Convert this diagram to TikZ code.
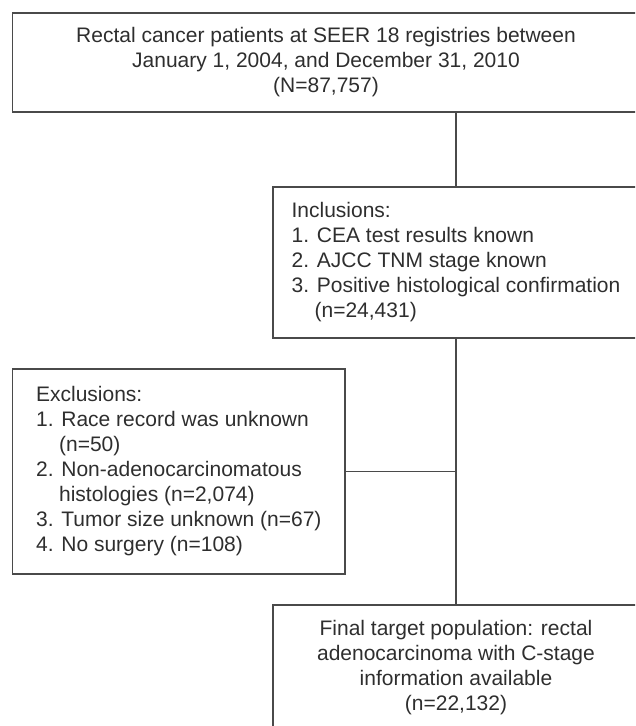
\documentclass[tikz,border=0pt]{standalone}
\usepackage{fontspec}
\setmainfont{Liberation Sans}
\usepackage{tikz}
\usetikzlibrary{positioning}
\usetikzlibrary{calc}

\definecolor{framegray}{HTML}{4A4A4A}
\definecolor{textgray}{HTML}{2E2E2E}

\begin{document}
\begin{tikzpicture}[x=1pt, y=-1pt,
    flowbox/.style={draw=framegray, line width=1.5pt, inner sep=0pt,
    text=textgray, font=\fontsize{21}{25}\selectfont},
    link/.style={draw=framegray, line width=1.5pt},
    ]
    \useasboundingbox (0,0) rectangle (635,726);
    \clip (0,0) rectangle (635,726);

    \node[flowbox, align=center, minimum width=626.6pt, minimum height=99.3pt] (source) at (326,62.4)
        {Rectal cancer patients at SEER 18 registries between\\
         January 1, 2004, and December 31, 2010\\
         (N=87,757)};
    \node[flowbox, align=left, minimum width=366pt, minimum height=151pt] (incl) at (456,262.5)
        {Inclusions:\\
         1. CEA test results known\\
         2. AJCC TNM stage known\\
         3. Positive histological confirmation\\
         \hspace*{23pt}(n=24,431)};
    \node[flowbox, align=left, minimum width=332.3pt, minimum height=205pt] (excl) at (178.8,471.5)
        {Exclusions:\\
         1. Race record was unknown\\
         \hspace*{23pt}(n=50)\\
         2. Non-adenocarcinomatous\\
         \hspace*{23pt}histologies (n=2,074)\\
         3. Tumor size unknown (n=67)\\
         4. No surgery (n=108)};
    \node[flowbox, align=center, minimum width=366pt, minimum height=126pt] (final) at (456,668)
        {Final target population: rectal\\
         adenocarcinoma with C-stage\\
         information available\\
         (n=22,132)};

    \coordinate (spine) at (456,0);

    \draw[link] (source.south -| spine) -- (incl.north -| spine);
    \draw[link] (incl.south -| spine) -- (final.north -| spine);
    \draw[link] (excl.east) -- (excl.east -| spine);
\end{tikzpicture}
\end{document}
